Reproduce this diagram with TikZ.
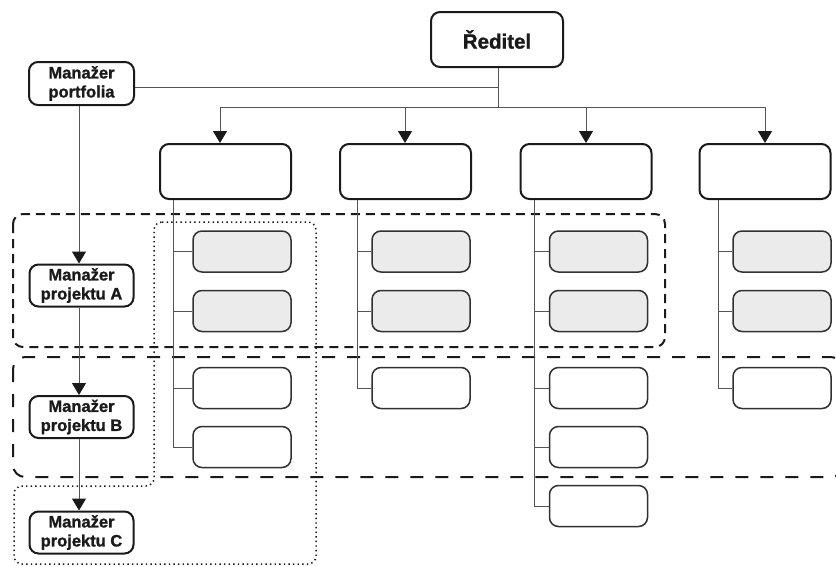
\documentclass[tikz,border=0pt]{standalone}
\usepackage{fontspec}
\setmainfont{Liberation Sans}[BoldFeatures={FakeBold=1.2}]
\usetikzlibrary{arrows.meta}
\definecolor{boxgray}{HTML}{EBEBEB}
\definecolor{ink}{HTML}{1A1A1A}
\definecolor{linegray}{HTML}{555555}
\begin{document}
\begin{tikzpicture}[x=1pt,y=-1pt,
  box/.style={draw=ink, line width=2pt, rounded corners=9pt, fill=white, inner sep=0pt, align=center, text=ink},
  topbox/.style={box, minimum width=131pt, minimum height=55pt},
  child/.style={draw=ink!90, line width=1.5pt, rounded corners=9pt, fill=white, minimum width=98pt, minimum height=41pt, inner sep=0pt},
  gchild/.style={child, fill=boxgray},
  mgr/.style={box, minimum width=104pt, minimum height=42pt, font=\bfseries\fontsize{16.5}{19}\selectfont},
  conn/.style={draw=linegray, line width=1pt},
  arr/.style={conn, -{Triangle[width=14pt,length=12pt,ink]}},
  shortdash/.style={draw=ink, line width=2pt, dash pattern=on 9pt off 6pt},
  longdash/.style={draw=ink, line width=2pt, dash pattern=on 13pt off 12pt},
  dotline/.style={draw=ink, line width=1.5pt, dash pattern=on 1.4pt off 3.2pt}
]
\useasboundingbox (0,0) rectangle (836,566);

% regions
\draw[shortdash, rounded corners=10pt] (13,214) rectangle (665,347);
\draw[longdash, rounded corners=12pt] (13,357) rectangle (843,477);
\draw[dotline, rounded corners=8pt] (154,222) -- (316,222) -- (316,564) -- (14,564) -- (14,486) -- (154,486) -- cycle;

% main nodes
\node[box, minimum width=132pt, minimum height=55pt, font=\bfseries\fontsize{20.5}{24}\selectfont] (red) at (497,39.5) {Ředitel};
\node[mgr, minimum width=105pt, minimum height=43pt] (pm) at (81.5,83.5) {Manažer\\portfolia};
\node[mgr] (pa) at (81.5,285.5) {Manažer\\projektu A};
\node[mgr] (pb) at (81.5,417) {Manažer\\projektu B};
\node[mgr] (pc) at (81.5,532.5) {Manažer\\projektu C};

\node[topbox] (t1) at (225.5,171.5) {};
\node[topbox] (t2) at (405.5,171.5) {};
\node[topbox] (t3) at (586,171.5) {};
\node[topbox] (t4) at (765,171.5) {};

% children
\node[gchild] (c11) at (242,251.5) {};
\node[gchild] (c12) at (242,311) {};
\node[child]  (c13) at (242,388) {};
\node[child]  (c14) at (242,447) {};

\node[gchild] (c21) at (421,251.5) {};
\node[gchild] (c22) at (421,311) {};
\node[child]  (c23) at (421,388) {};

\node[gchild] (c31) at (598.5,251.5) {};
\node[gchild] (c32) at (598.5,311) {};
\node[child]  (c33) at (598.5,388) {};
\node[child]  (c34) at (598.5,447) {};
\node[child]  (c35) at (598.5,506) {};

\node[gchild] (c41) at (782,251.5) {};
\node[gchild] (c42) at (782,311) {};
\node[child]  (c43) at (782,388) {};

% connectors from top
\coordinate (j) at (498,107);
\coordinate (b1) at (220,107);
\coordinate (b2) at (405,107);
\coordinate (b3) at (586,107);
\coordinate (b4) at (765,107);
\draw[conn] (red.south -| j) -- (j);
\draw[conn] ([yshift=-3.5pt]pm.east) -- ([yshift=-3.5pt]pm.east -| j);
\draw[conn] (b1) -- (b4);
\draw[arr] (b1) -- (b1 |- t1.north);
\draw[arr] (b2) -- (b2 |- t2.north);
\draw[arr] (b3) -- (b3 |- t3.north);
\draw[arr] (b4) -- (b4 |- t4.north);

% manager chain
\draw[arr] (pm.south -| 79,0) -- (pa.north -| 79,0);
\draw[arr] (pa.south -| 79,0) -- (pb.north -| 79,0);
\draw[arr] (pb.south -| 79,0) -- (pc.north -| 79,0);

% column trees
\coordinate (v1) at (173,0);
\coordinate (v2) at (357,0);
\coordinate (v3) at (534,0);
\coordinate (v4) at (718,0);
\draw[conn] (t1.south -| v1) |- (c14.west);
\foreach \c in {c11,c12,c13} \draw[conn] (\c.west) -- (\c.west -| v1);
\draw[conn] (t2.south -| v2) |- (c23.west);
\foreach \c in {c21,c22} \draw[conn] (\c.west) -- (\c.west -| v2);
\draw[conn] (t3.south -| v3) |- (c35.west);
\foreach \c in {c31,c32,c33,c34} \draw[conn] (\c.west) -- (\c.west -| v3);
\draw[conn] (t4.south -| v4) |- (c43.west);
\foreach \c in {c41,c42} \draw[conn] (\c.west) -- (\c.west -| v4);
\end{tikzpicture}
\end{document}
